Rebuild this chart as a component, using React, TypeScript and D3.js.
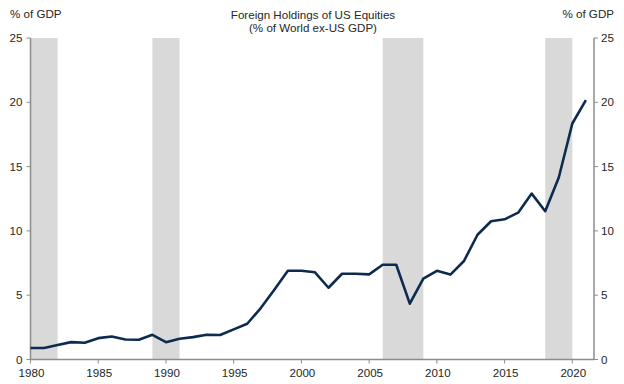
import React from "react";
import * as d3 from "d3";

const years = [1980,1981,1982,1983,1984,1985,1986,1987,1988,1989,1990,1991,1992,1993,1994,1995,1996,1997,1998,1999,2000,2001,2002,2003,2004,2005,2006,2007,2008,2009,2010,2011,2012,2013,2014,2015,2016,2017,2018,2019,2020,2021];
const holdings = [0.9,0.9,1.12,1.35,1.3,1.66,1.79,1.56,1.53,1.92,1.35,1.61,1.74,1.92,1.9,2.34,2.78,4.0,5.43,6.9,6.9,6.78,5.58,6.67,6.67,6.62,7.37,7.37,4.34,6.28,6.9,6.6,7.66,9.7,10.75,10.9,11.42,12.9,11.53,14.15,18.35,20.17];
const recessions: [number, number][] = [[1980,1982],[1989,1991],[2006,2009],[2018,2020]];
const yTicks = [0,5,10,15,20,25];
const xTicks = [1980,1985,1990,1995,2000,2005,2010,2015,2020];
const titleLines = ["Foreign Holdings of US Equities", "(% of World ex-US GDP)"];
const axisLabel = "% of GDP";

export default function App() {
  const W = 624, H = 384;
  const x = d3.scaleLinear().domain([1980, 2021.6]).range([30.5, 594]);
  const y = d3.scaleLinear().domain([0, 25]).range([359.5, 38]);
  const line = d3.line<number>().x((_, i) => x(years[i])).y(d => y(d));
  const axisColor = "#8c8c8c";
  const textColor = "#262626";
  const font = "'Liberation Sans', Arial, sans-serif";
  const fs = 11.6;
  return (
    <svg width={W} height={H} style={{ position: "absolute", left: 0, top: 0, background: "#fff" }} fontFamily={font}>
      {recessions.map(([a, b], i) => (
        <rect key={i} x={x(a)} y={y(25)} width={x(b) - x(a)} height={y(0) - y(25)} fill="#d9d9d9" />
      ))}
      <line x1={x(1980)} x2={x(1980)} y1={y(25)} y2={y(0)} stroke={axisColor} strokeWidth={1.5} />
      {yTicks.map(t => (
        <g key={"l" + t}>
          <line x1={x(1980) - 4} x2={x(1980)} y1={y(t)} y2={y(t)} stroke={axisColor} />
          <text x={x(1980) - 8} y={y(t)} dy="0.35em" textAnchor="end" fontSize={fs} fill={textColor}>{t}</text>
        </g>
      ))}
      <line x1={x(2021.6)} x2={x(2021.6)} y1={y(25)} y2={y(0)} stroke={axisColor} strokeWidth={1.5} />
      {yTicks.map(t => (
        <g key={"r" + t}>
          <line x1={x(2021.6)} x2={x(2021.6) + 4} y1={y(t)} y2={y(t)} stroke={axisColor} />
          <text x={x(2021.6) + 7} y={y(t)} dy="0.35em" textAnchor="start" fontSize={fs} fill={textColor}>{t}</text>
        </g>
      ))}
      <line x1={x(1980)} x2={x(2021.6)} y1={y(0)} y2={y(0)} stroke={axisColor} strokeWidth={1.5} />
      {xTicks.map(t => (
        <g key={"x" + t}>
          <line x1={x(t)} x2={x(t)} y1={y(0)} y2={y(0) + 4} stroke={axisColor} />
          <text x={x(t) + 1} y={376.5} textAnchor="middle" fontSize={fs} fill={textColor}>{t}</text>
        </g>
      ))}
      <path d={line(holdings) || ""} fill="none" stroke="#0d2b4e" strokeWidth={2.6} strokeLinejoin="round" />
      <text x={10} y={17.5} fontSize={fs} fill={textColor}>{axisLabel}</text>
      <text x={614} y={17.5} textAnchor="end" fontSize={fs} fill={textColor}>{axisLabel}</text>
      {titleLines.map((t, i) => (
        <text key={i} x={313} y={18.5 + i * 13} textAnchor="middle" fontSize={fs} fill={textColor}>{t}</text>
      ))}
    </svg>
  );
}
